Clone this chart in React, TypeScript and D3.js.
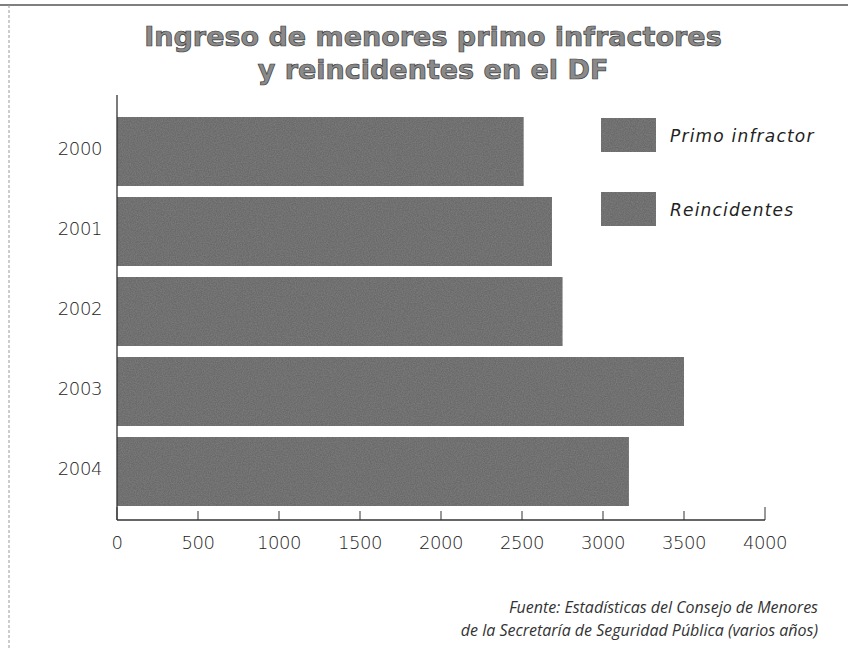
import React from "react";
import * as d3 from "d3";

const years = ["2000", "2001", "2002", "2003", "2004"];
const totals = [2510, 2685, 2750, 3500, 3160];
const seriesNames = ["Primo infractor", "Reincidentes"];
const xTicks = [0, 500, 1000, 1500, 2000, 2500, 3000, 3500, 4000];
const titleLines = ["Ingreso de menores primo infractores", "y reincidentes en el DF"];
const sourceLines = [
  "Fuente: Estadísticas del Consejo de Menores",
  "de la Secretaría de Seguridad Pública (varios años)",
];

const W = 848;
const H = 648;

export default function App() {
  const x = d3.scaleLinear().domain([0, 4000]).range([117, 765]);
  const y = d3.scaleBand<string>().domain(years).range([110, 513]).paddingInner(0.1375).paddingOuter(0.0875);
  const axisY = 520;
  const barFill = "#6a6a6a";
  const labelFont = "'DejaVu Sans', sans-serif";

  return (
    <svg width={W} height={H} style={{ position: "absolute", left: 0, top: 0, background: "#fff" }}>
      <defs>
        <filter id="grain" x="0" y="0" width="100%" height="100%">
          <feTurbulence type="fractalNoise" baseFrequency="0.85" numOctaves="2" seed="3" result="noise" />
          <feColorMatrix
            in="noise"
            type="matrix"
            values="0 0 0 0 0.25  0 0 0 0 0.25  0 0 0 0 0.25  0 0 0 0.9 -0.25"
            result="dark"
          />
          <feComposite in="dark" in2="SourceGraphic" operator="in" result="darkIn" />
          <feMerge>
            <feMergeNode in="SourceGraphic" />
            <feMergeNode in="darkIn" />
          </feMerge>
        </filter>
      </defs>
      <rect x={0} y={0} width={W} height={H} fill="#fff" />
      {/* frame */}
      <line x1={0} x2={W} y1={5} y2={5} stroke="#555" strokeWidth={1.5} />
      <line x1={9} x2={9} y1={5} y2={H} stroke="#999" strokeWidth={1} strokeDasharray="3 2" />

      {/* title */}
      {titleLines.map((t, i) => (
        <text
          key={t}
          x={433}
          y={46 + i * 33}
          textAnchor="middle"
          fontFamily="'DejaVu Sans', sans-serif"
          fontWeight="bold"
          fontSize={27}
          fill="#8a8a8a"
          stroke="#3a3a3a"
          strokeWidth={0.7}
        >
          {t}
        </text>
      ))}

      {/* bars */}
      <g filter="url(#grain)">
        {years.map((yr, i) => (
          <rect
            key={yr}
            x={x(0)}
            y={y(yr)!}
            width={x(totals[i]) - x(0)}
            height={y.bandwidth()}
            fill={barFill}
          />
        ))}
      </g>

      {/* y axis */}
      <line x1={117} x2={117} y1={95} y2={axisY} stroke="#333" strokeWidth={1.3} />
      {years.map((yr) => (
        <text
          key={yr}
          x={102}
          y={y(yr)! + y.bandwidth() / 2 - 3}
          dy="0.35em"
          textAnchor="end"
          fontFamily={labelFont}
          fontWeight={200}
          fontSize={18}
          letterSpacing={-0.4}
          fill="#222"
        >
          {yr}
        </text>
      ))}

      {/* x axis */}
      <line x1={x(0)} x2={x(4000)} y1={axisY} y2={axisY} stroke="#333" strokeWidth={1.5} />
      {xTicks.map((t, i) => {
        const end = i === 0 || i === xTicks.length - 1;
        return (
          <g key={t}>
            <line x1={x(t)} x2={x(t)} y1={axisY} y2={axisY - (end ? 13 : 9)} stroke="#333" strokeWidth={1} />
            <text
              x={x(t)}
              y={543}
              dy="0.35em"
              textAnchor="middle"
              fontFamily={labelFont}
              fontWeight={200}
              fontSize={18}
              letterSpacing={-0.4}
              fill="#222"
            >
              {t}
            </text>
          </g>
        );
      })}

      {/* legend */}
      {seriesNames.map((s, i) => (
        <g key={s} transform={`translate(601, ${118 + i * 74})`}>
          <rect x={0} y={0} width={55} height={34} fill={barFill} filter="url(#grain)" />
          <text
            x={69}
            y={18}
            dy="0.35em"
            fontFamily={labelFont}
            fontStyle="italic"
            fontWeight={200}
            fontSize={17}
            letterSpacing={1.2}
            fill="#222"
          >
            {s}
          </text>
        </g>
      ))}

      {/* source */}
      {sourceLines.map((s, i) => (
        <text
          key={s}
          x={818}
          y={607 + i * 23}
          dy="0.35em"
          textAnchor="end"
          fontFamily="'Open Sans', sans-serif"
          fontStyle="italic"
          fontSize={16}
          fill="#333"
        >
          {s}
        </text>
      ))}
    </svg>
  );
}
